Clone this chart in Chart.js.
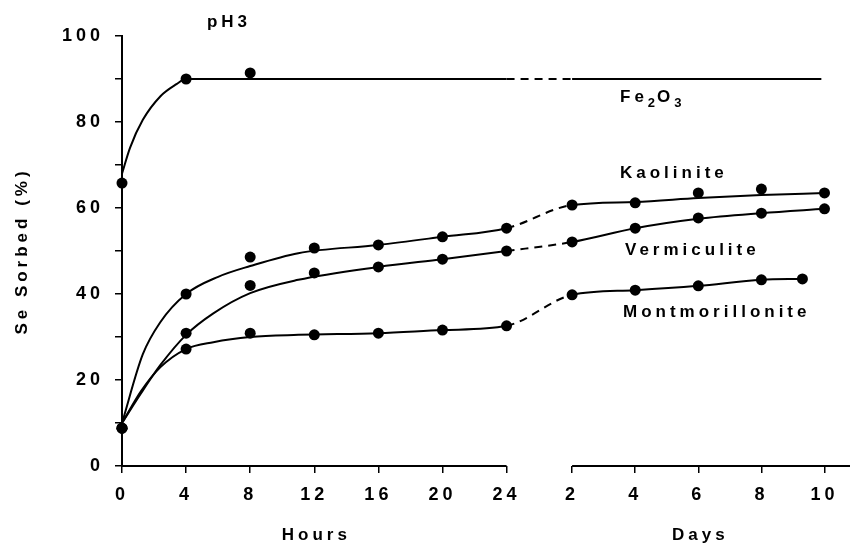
<!DOCTYPE html>
<html><head><meta charset="utf-8">
<script src="https://cdn.jsdelivr.net/npm/chart.js@4/dist/chart.umd.min.js"></script>
<style>html,body{margin:0;padding:0;background:#fff}#wrap{width:850px;height:546px;position:relative}</style>
</head><body><div id="wrap"><canvas id="c"></canvas></div>
<script>
// ---- tick labels ----
const hourTicks = [0, 4, 8, 12, 16, 20, 24];
const dayTicks = [2, 4, 6, 8, 10];
const yTicksLabelled = [0, 20, 40, 60, 80, 100];

// ---- measured points (hours part / days part) ----
const feHours = [0, 4, 8];
const feValues = [65.8, 90, 91.4];

const kaoHours = [0, 4, 8, 12, 16, 20, 24];
const kaoHourValues = [8.8, 40, 48.6, 50.7, 51.4, 53.3, 55.3];
const kaoDays = [2, 4, 6, 8, 10];
const kaoDayValues = [60.7, 61.2, 63.5, 64.4, 63.5];

const verHours = [0, 4, 8, 12, 16, 20, 24];
const verHourValues = [8.8, 30.9, 42, 44.9, 46.3, 48.1, 50];
const verDays = [2, 4, 6, 8, 10];
const verDayValues = [52.1, 55.3, 57.7, 58.8, 59.8];

const monHours = [0, 4, 8, 12, 16, 20, 24];
const monHourValues = [8.8, 27.2, 30.9, 30.5, 30.9, 31.6, 32.6];
const monDays = [2, 4, 6, 8, 9.3];
const monDayValues = [39.8, 40.9, 41.9, 43.3, 43.5];

// ---- fitted curves ----
const feCurveHours = [0, 0.5, 1.3, 2.4, 3.4, 4, 24];
const feCurveHourValues = [68, 74, 80.5, 86, 88.8, 90, 90];
const feCurveDays = [2, 9.9];
const feCurveDayValues = [90, 90];

const kaoCurveHours = [0, 1.3, 2.4, 4, 6, 8, 11, 16, 20, 24];
const kaoCurveHourValues = [10, 26, 33.5, 40, 44, 46.5, 49.5, 51.4, 53.3, 55.3];
const kaoCurveDays = [2, 4, 6, 8, 10];
const kaoCurveDayValues = [60.7, 61.4, 62.3, 63, 63.5];

const verCurveHours = [0, 1.2, 2.4, 4, 5.7, 8, 11, 16, 20, 24];
const verCurveHourValues = [10, 17, 23.5, 30.5, 35.5, 40.2, 43.3, 46.3, 48.1, 50];
const verCurveDays = [2, 4, 6, 8, 10];
const verCurveDayValues = [52.1, 55.3, 57.5, 58.8, 59.8];

const monCurveHours = [0, 1.2, 2.4, 4, 5.7, 8, 11, 16, 20, 24];
const monCurveHourValues = [10, 17.5, 23, 27.2, 28.8, 30, 30.5, 30.9, 31.6, 32.6];
const monCurveDays = [2, 4, 6, 8, 9.3];
const monCurveDayValues = [39.8, 40.9, 41.9, 43.3, 43.5];

// ---- broken x axis: hours then days on one linear scale ----
const DAY_START = 28.09;   // scale position of day 2
const DAY_UNIT = 1.969;    // scale units per day
const X_MAX = 45.09;
const dayPos = d => DAY_START + (d - 2) * DAY_UNIT;

const toPts = (hx, hy, dx, dy) =>
  hx.map((h, i) => ({x: h, y: hy[i]})).concat((dx || []).map((d, i) => ({x: dayPos(d), y: dy[i]})));

const FONT = "'Liberation Sans', Arial, sans-serif";
const SPACING = '4px';

const isGap = ctx => ctx.p0.parsed.x <= 24.001 && ctx.p1.parsed.x >= DAY_START - 0.001;

function curve(data) {
  return {
    type: 'line', data, showLine: true, borderColor: '#000', borderWidth: 2,
    pointRadius: 0, pointHoverRadius: 0, cubicInterpolationMode: 'monotone', fill: false,
    segment: { borderDash: ctx => isGap(ctx) ? [8, 6] : undefined }
  };
}
function dots(data) {
  return {
    type: 'line', data, showLine: false, pointRadius: 5.5, pointHoverRadius: 5.5,
    pointBackgroundColor: '#000', pointBorderWidth: 0, borderColor: '#000', clip: false
  };
}

const xLabels = hourTicks.map(String).concat(dayTicks.map(String));

const decor = {
  id: 'decor',
  beforeLayout(chart) { chart.ctx.letterSpacing = SPACING; },
  beforeDraw(chart) { chart.ctx.letterSpacing = SPACING; },
  afterDraw(chart) {
    const ctx = chart.ctx, x = chart.scales.x, y = chart.scales.y;
    const yb = y.getPixelForValue(0);
    ctx.save();
    ctx.letterSpacing = SPACING;
    ctx.strokeStyle = '#000';
    ctx.lineWidth = 2;
    ctx.beginPath();
    ctx.moveTo(x.getPixelForValue(0), yb);
    ctx.lineTo(x.getPixelForValue(24), yb);
    ctx.moveTo(x.getPixelForValue(dayPos(2)), yb);
    ctx.lineTo(chart.width, yb);
    ctx.stroke();

    ctx.fillStyle = '#000';
    ctx.textBaseline = 'middle';
    ctx.font = 'bold 17px ' + FONT;
    ctx.textAlign = 'center';
    ctx.fillText('pH3', 229, 22);
    ctx.fillText('Hours', x.getPixelForValue(12) + 2, 535);
    ctx.fillText('Days', x.getPixelForValue(dayPos(6)) + 2, 535);

    ctx.textAlign = 'left';
    ctx.fillText('Kaolinite', 620, 173);
    ctx.fillText('Vermiculite', 625, 250);
    ctx.fillText('Montmorillonite', 623, 312);
    // Fe2O3 with subscripts
    let px = 620;
    const part = (t, sub) => {
      ctx.font = (sub ? 'bold 13px ' : 'bold 17px ') + FONT;
      ctx.letterSpacing = sub ? '2px' : SPACING;
      ctx.fillText(t, px, sub ? 103 : 97);
      px += ctx.measureText(t).width;
    };
    part('Fe', false); part('2', true); part('O', false); part('3', true);
    ctx.restore();
  }
};

new Chart(document.getElementById('c'), {
  type: 'line',
  data: {
    datasets: [
      curve(toPts(feCurveHours, feCurveHourValues, feCurveDays, feCurveDayValues)),
      curve(toPts(kaoCurveHours, kaoCurveHourValues, kaoCurveDays, kaoCurveDayValues)),
      curve(toPts(verCurveHours, verCurveHourValues, verCurveDays, verCurveDayValues)),
      curve(toPts(monCurveHours, monCurveHourValues, monCurveDays, monCurveDayValues)),
      dots(toPts(feHours, feValues)),
      dots(toPts(kaoHours, kaoHourValues, kaoDays, kaoDayValues)),
      dots(toPts(verHours, verHourValues, verDays, verDayValues)),
      dots(toPts(monHours, monHourValues, monDays, monDayValues))
    ]
  },
  options: {
    responsive: true, maintainAspectRatio: false, animation: false,
    events: [],
    layout: { padding: { top: 36, right: 1, left: 0, bottom: 0 } },
    plugins: { legend: { display: false }, tooltip: { enabled: false } },
    scales: {
      x: {
        type: 'linear', min: 0, max: X_MAX,
        afterBuildTicks: s => { s.ticks = hourTicks.map(v => ({value: v})).concat(dayTicks.map(d => ({value: dayPos(d)}))); },
        afterFit: s => { s.height = 546 - 466; },
        ticks: {
          autoSkip: false, maxRotation: 0, minRotation: 0, padding: 11, color: '#000',
          font: { family: FONT, size: 18, weight: 'bold' },
          callback: (v, i) => xLabels[i]
        },
        grid: { drawOnChartArea: false, drawTicks: true, tickLength: 7, color: '#000', lineWidth: 1.5 },
        border: { display: false }
      },
      y: {
        min: 0, max: 100,
        afterBuildTicks: s => { s.ticks = []; for (let v = 0; v <= 100; v += 10) s.ticks.push({value: v}); },
        afterFit: s => { s.width = 122; },
        ticks: {
          padding: 11, color: '#000',
          font: { family: FONT, size: 18, weight: 'bold' },
          callback: v => yTicksLabelled.includes(v) ? String(v) : ''
        },
        grid: { drawOnChartArea: false, drawTicks: true, tickLength: 7, color: '#000', lineWidth: 1.5 },
        border: { display: true, color: '#000', width: 2 },
        title: {
          display: true, text: 'Se Sorbed (%)', color: '#000',
          font: { family: FONT, size: 17, weight: 'bold' }, padding: { top: 12, bottom: 0 }
        }
      }
    }
  },
  plugins: [decor]
});
</script>
</body></html>
